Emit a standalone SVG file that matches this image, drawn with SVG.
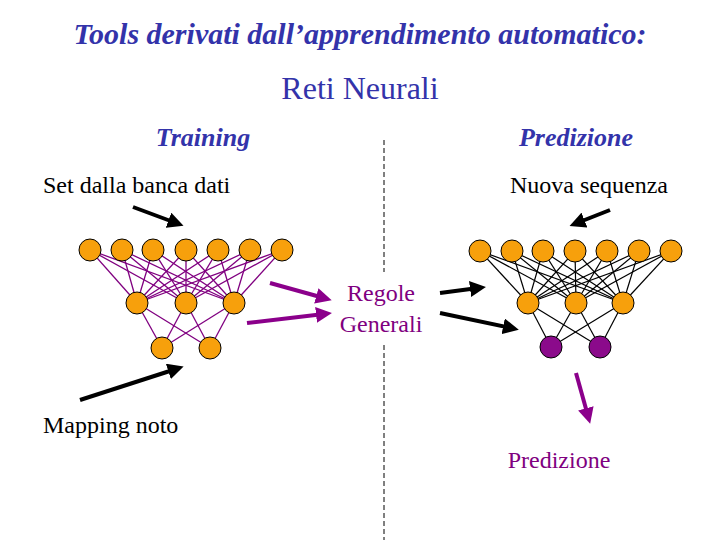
<svg xmlns="http://www.w3.org/2000/svg" width="720" height="540" viewBox="0 0 720 540">
<style>
.t{font-family:"Liberation Serif",serif;}
.n{fill:#f7a00c;stroke:#000;stroke-width:1}
.p{fill:#8b0a8b;stroke:#000;stroke-width:1}
.lp line{stroke:#800080;stroke-width:1.3}
.lb line{stroke:#000;stroke-width:1.2}
</style>
<defs>
<marker id="ab" markerWidth="4" markerHeight="4" refX="2" refY="2" orient="auto"><path d="M0,0L4,2L0,4z" fill="#000"/></marker>
<marker id="ap" markerWidth="4" markerHeight="4" refX="2" refY="2" orient="auto"><path d="M0,0L4,2L0,4z" fill="#8b008b"/></marker>
</defs>
<rect width="720" height="540" fill="#fff"/>
<text class="t" x="360" y="44" text-anchor="middle" font-size="30" font-style="italic" font-weight="bold" fill="#3333aa">Tools derivati dall’apprendimento automatico:</text>
<text class="t" x="360" y="99" text-anchor="middle" font-size="32" fill="#3333aa">Reti Neurali</text>
<text class="t" x="203" y="146" text-anchor="middle" font-size="26" font-style="italic" font-weight="bold" fill="#3333aa">Training</text>
<text class="t" x="576" y="146" text-anchor="middle" font-size="26" font-style="italic" font-weight="bold" fill="#3333aa">Predizione</text>
<text class="t" x="43" y="193" font-size="24">Set dalla banca dati</text>
<text class="t" x="510" y="193" font-size="24">Nuova sequenza</text>
<text class="t" x="381" y="301" text-anchor="middle" font-size="24" fill="#800080">Regole</text>
<text class="t" x="381" y="332" text-anchor="middle" font-size="24" fill="#800080">Generali</text>
<text class="t" x="43" y="433" font-size="24">Mapping noto</text>
<text class="t" x="559" y="468" text-anchor="middle" font-size="24" fill="#800080">Predizione</text>
<g id="connectors">
<line x1="384" y1="140" x2="384" y2="272" stroke="#000" stroke-dasharray="5,3"/>
<line x1="384" y1="345" x2="384" y2="540" stroke="#000" stroke-dasharray="5,3"/>
<g class="lp">
<line x1="90" y1="250" x2="137" y2="303"/><line x1="90" y1="250" x2="186" y2="303"/><line x1="90" y1="250" x2="234" y2="303"/>
<line x1="122" y1="250" x2="137" y2="303"/><line x1="122" y1="250" x2="186" y2="303"/><line x1="122" y1="250" x2="234" y2="303"/>
<line x1="153" y1="250" x2="137" y2="303"/><line x1="153" y1="250" x2="186" y2="303"/><line x1="153" y1="250" x2="234" y2="303"/>
<line x1="186" y1="250" x2="137" y2="303"/><line x1="186" y1="250" x2="186" y2="303"/><line x1="186" y1="250" x2="234" y2="303"/>
<line x1="218" y1="250" x2="137" y2="303"/><line x1="218" y1="250" x2="186" y2="303"/><line x1="218" y1="250" x2="234" y2="303"/>
<line x1="250" y1="250" x2="137" y2="303"/><line x1="250" y1="250" x2="186" y2="303"/><line x1="250" y1="250" x2="234" y2="303"/>
<line x1="282" y1="250" x2="137" y2="303"/><line x1="282" y1="250" x2="186" y2="303"/><line x1="282" y1="250" x2="234" y2="303"/>
<line x1="137" y1="303" x2="162" y2="348"/><line x1="137" y1="303" x2="210" y2="348"/>
<line x1="186" y1="303" x2="162" y2="348"/><line x1="186" y1="303" x2="210" y2="348"/>
<line x1="234" y1="303" x2="162" y2="348"/><line x1="234" y1="303" x2="210" y2="348"/>
</g>
<g class="lb">
<line x1="480" y1="251" x2="528" y2="303"/><line x1="480" y1="251" x2="576" y2="303"/><line x1="480" y1="251" x2="623" y2="303"/>
<line x1="512" y1="251" x2="528" y2="303"/><line x1="512" y1="251" x2="576" y2="303"/><line x1="512" y1="251" x2="623" y2="303"/>
<line x1="543" y1="251" x2="528" y2="303"/><line x1="543" y1="251" x2="576" y2="303"/><line x1="543" y1="251" x2="623" y2="303"/>
<line x1="575" y1="251" x2="528" y2="303"/><line x1="575" y1="251" x2="576" y2="303"/><line x1="575" y1="251" x2="623" y2="303"/>
<line x1="607" y1="251" x2="528" y2="303"/><line x1="607" y1="251" x2="576" y2="303"/><line x1="607" y1="251" x2="623" y2="303"/>
<line x1="639" y1="251" x2="528" y2="303"/><line x1="639" y1="251" x2="576" y2="303"/><line x1="639" y1="251" x2="623" y2="303"/>
<line x1="671" y1="251" x2="528" y2="303"/><line x1="671" y1="251" x2="576" y2="303"/><line x1="671" y1="251" x2="623" y2="303"/>
<line x1="528" y1="303" x2="551" y2="347"/><line x1="528" y1="303" x2="600" y2="347"/>
<line x1="576" y1="303" x2="551" y2="347"/><line x1="576" y1="303" x2="600" y2="347"/>
<line x1="623" y1="303" x2="551" y2="347"/><line x1="623" y1="303" x2="600" y2="347"/>
</g>
<line x1="133" y1="207" x2="176" y2="223" stroke="#000" stroke-width="4" marker-end="url(#ab)"/>
<line x1="80" y1="400" x2="176" y2="369" stroke="#000" stroke-width="4" marker-end="url(#ab)"/>
<line x1="270" y1="283" x2="324" y2="298" stroke="#8b008b" stroke-width="4" marker-end="url(#ap)"/>
<line x1="247" y1="323" x2="324" y2="314" stroke="#8b008b" stroke-width="4" marker-end="url(#ap)"/>
<line x1="440" y1="293" x2="478" y2="288" stroke="#000" stroke-width="4" marker-end="url(#ab)"/>
<line x1="440" y1="313" x2="511" y2="328" stroke="#000" stroke-width="4" marker-end="url(#ab)"/>
<line x1="610" y1="210" x2="577" y2="223" stroke="#000" stroke-width="4" marker-end="url(#ab)"/>
<line x1="576" y1="373" x2="588" y2="416" stroke="#8b008b" stroke-width="4" marker-end="url(#ap)"/>
</g>
<g id="left-input"><circle class="n" cx="90" cy="250" r="11"/><circle class="n" cx="122" cy="250" r="11"/><circle class="n" cx="153" cy="250" r="11"/><circle class="n" cx="186" cy="250" r="11"/><circle class="n" cx="218" cy="250" r="11"/><circle class="n" cx="250" cy="250" r="11"/><circle class="n" cx="282" cy="250" r="11"/></g>
<g id="left-hidden"><circle class="n" cx="137" cy="303" r="11"/><circle class="n" cx="186" cy="303" r="11"/><circle class="n" cx="234" cy="303" r="11"/></g>
<g id="left-output"><circle class="n" cx="162" cy="348" r="11"/><circle class="n" cx="210" cy="348" r="11"/></g>
<g id="right-input"><circle class="n" cx="480" cy="251" r="11"/><circle class="n" cx="512" cy="251" r="11"/><circle class="n" cx="543" cy="251" r="11"/><circle class="n" cx="575" cy="251" r="11"/><circle class="n" cx="607" cy="251" r="11"/><circle class="n" cx="639" cy="251" r="11"/><circle class="n" cx="671" cy="251" r="11"/></g>
<g id="right-hidden"><circle class="n" cx="528" cy="303" r="11"/><circle class="n" cx="576" cy="303" r="11"/><circle class="n" cx="623" cy="303" r="11"/></g>
<g id="right-output"><circle class="p" cx="551" cy="347" r="11"/><circle class="p" cx="600" cy="347" r="11"/></g>
</svg>
